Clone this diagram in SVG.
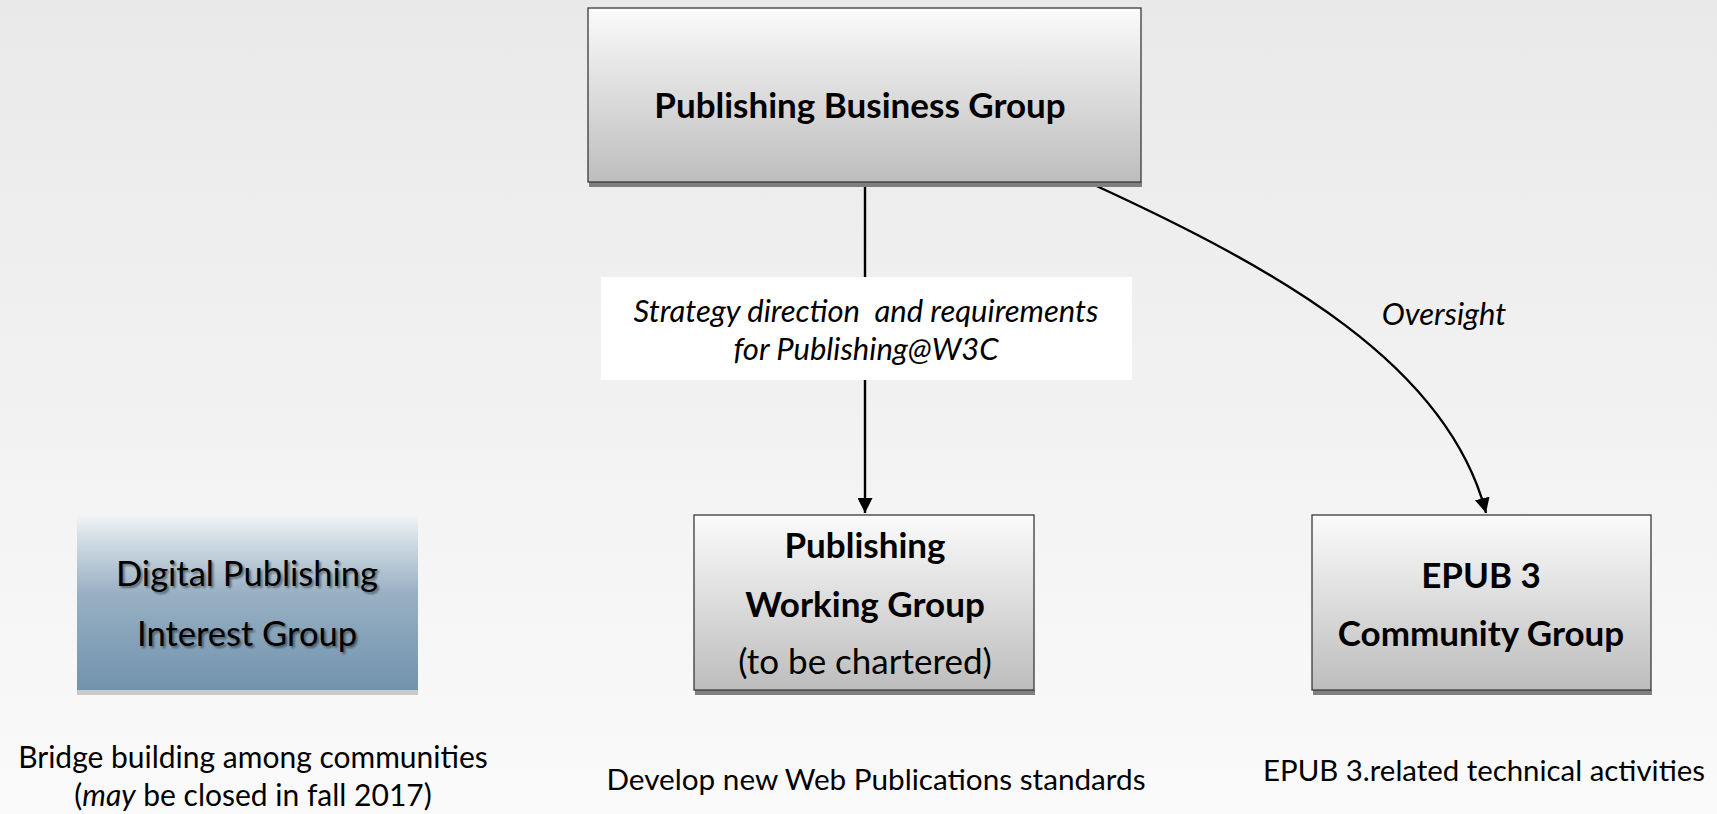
<svg xmlns="http://www.w3.org/2000/svg" width="1717" height="814" viewBox="0 0 1717 814">
<defs>
<linearGradient id="bg" x1="0" y1="0" x2="0" y2="1">
<stop offset="0" stop-color="#e9e9e9"/>
<stop offset="1" stop-color="#fafafa"/>
</linearGradient>
<linearGradient id="gray" x1="0" y1="0" x2="0" y2="1">
<stop offset="0" stop-color="#fbfbfb"/>
<stop offset="1" stop-color="#bdbdbd"/>
</linearGradient>
<linearGradient id="blue" x1="0" y1="0" x2="0" y2="1">
<stop offset="0" stop-color="#f2f4f6"/>
<stop offset="0.12" stop-color="#d6dfe6"/>
<stop offset="0.45" stop-color="#98b0c3"/>
<stop offset="1" stop-color="#7193ad"/>
</linearGradient>
<filter id="ts" x="-10%" y="-30%" width="120%" height="160%">
<feGaussianBlur stdDeviation="1"/>
</filter>
<marker id="arr" viewBox="0 0 10 10" refX="10" refY="5" markerWidth="15" markerHeight="15" markerUnits="userSpaceOnUse" orient="auto">
<path d="M0,0 L10,5 L0,10 z" fill="#000"/>
</marker>
</defs>
<style>
.box{fill:url(#gray);stroke:#3a3a3a;stroke-width:1.3}
.shadow{fill:#7f7f7f}
.b{font-family:Lato,"Liberation Sans",sans-serif;font-weight:bold;fill:#000;text-anchor:middle}
.r{font-family:Lato,"Liberation Sans",sans-serif;fill:#000;text-anchor:middle}
.i{font-family:Lato,"Liberation Sans",sans-serif;font-style:italic;fill:#000;text-anchor:middle;white-space:pre}
.conn{fill:none;stroke:#000;stroke-width:2.4}
</style>
<rect x="0" y="0" width="1717" height="814" fill="url(#bg)"/>

<g id="connectors">
<line class="conn" x1="865" y1="183" x2="865" y2="277"/>
<line class="conn" x1="865" y1="380" x2="865" y2="513" marker-end="url(#arr)"/>
<path class="conn" d="M1090,183 C1280,270 1448,365 1486,513" marker-end="url(#arr)"/>
<text class="i" x="1444" y="325" font-size="31">Oversight</text>
</g>

<g id="label-strategy">
<rect x="601" y="277" width="531" height="103" fill="#ffffff"/>
<text class="i" x="866" y="322" font-size="31" xml:space="preserve">Strategy direction  and requirements</text>
<text class="i" x="866" y="360" font-size="31">for Publishing@W3C</text>
</g>

<g id="node-pbg">
<rect class="shadow" x="589" y="182" width="553" height="5"/>
<rect class="box" x="588" y="8" width="553" height="174"/>
<text class="b" x="860" y="118" font-size="35">Publishing Business Group</text>
</g>

<g id="node-dpig">
<rect x="77" y="686" width="341" height="9" fill="#c9c9c9"/>
<rect x="77" y="515" width="341" height="175" fill="url(#blue)"/>
<g filter="url(#ts)" opacity="0.45">
<text class="r" x="249" y="588" font-size="34.5">Digital Publishing</text>
<text class="r" x="249" y="648" font-size="34.5">Interest Group</text>
</g>
<text class="r" x="247" y="586" font-size="34.5">Digital Publishing</text>
<text class="r" x="247" y="646" font-size="34.5">Interest Group</text>
</g>

<g id="node-pwg">
<rect class="shadow" x="695" y="690" width="340" height="5"/>
<rect class="box" x="694" y="515" width="340" height="175"/>
<text class="b" x="865" y="558" font-size="35">Publishing</text>
<text class="b" x="865" y="617" font-size="35">Working Group</text>
<text class="r" x="865" y="674" font-size="35">(to be chartered)</text>
</g>

<g id="node-epub">
<rect class="shadow" x="1313" y="690" width="339" height="5"/>
<rect class="box" x="1312" y="515" width="339" height="175"/>
<text class="b" x="1481" y="588" font-size="35">EPUB 3</text>
<text class="b" x="1481" y="646" font-size="35">Community Group</text>
</g>

<g id="captions">
<text class="r" x="253" y="768" font-size="30">Bridge building among communities</text>
<text class="r" x="253" y="806" font-size="30">(<tspan font-style="italic">may</tspan> be closed in fall 2017)</text>
<text class="r" x="876" y="790" font-size="29.7">Develop new Web Publications standards</text>
<text class="r" x="1484" y="781" font-size="29.4">EPUB 3.related technical activities</text>
</g>
</svg>
